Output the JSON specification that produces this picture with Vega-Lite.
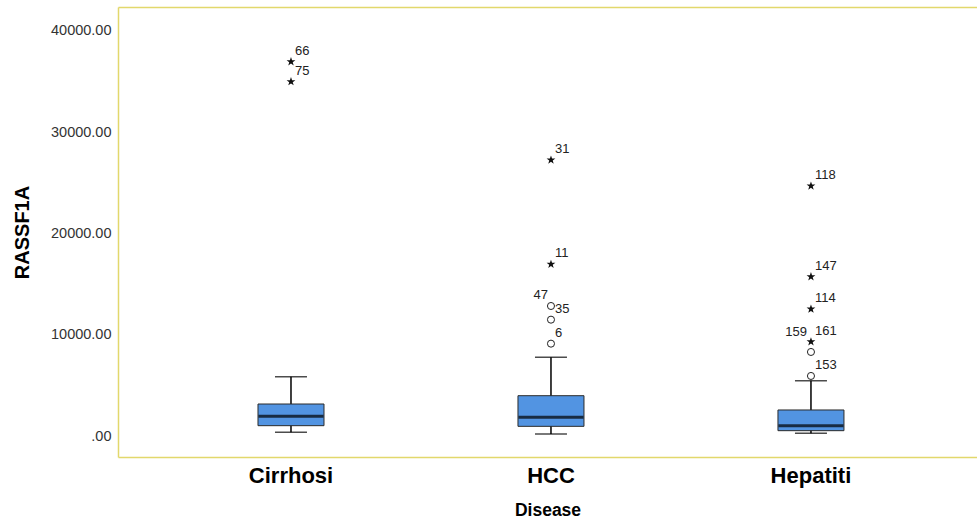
{
  "$schema": "https://vega.github.io/schema/vega-lite/v6.json",
  "autosize": {"type": "none"},
  "padding": {"left": 118, "top": 7, "right": 0, "bottom": 67},
  "width": 859,
  "height": 450,
  "background": "white",
  "config": {
    "view": {"stroke": null},
    "font": "Liberation Sans"
  },
  "datasets": {
    "boxes": [
      {"Disease": "Cirrhosi", "lower": 360, "q1": 1020, "median": 1945, "q3": 3160, "upper": 5850},
      {"Disease": "HCC", "lower": 200, "q1": 955, "median": 1850, "q3": 3980, "upper": 7770},
      {"Disease": "Hepatiti", "lower": 265, "q1": 525, "median": 1020, "q3": 2570, "upper": 5460}
    ],
    "outliers": [
      {"Disease": "Cirrhosi", "case": "66", "RASSF1A": 36970, "kind": "extreme"},
      {"Disease": "Cirrhosi", "case": "75", "RASSF1A": 35000, "kind": "extreme"},
      {"Disease": "HCC", "case": "31", "RASSF1A": 27260, "kind": "extreme"},
      {"Disease": "HCC", "case": "11", "RASSF1A": 16960, "kind": "extreme"},
      {"Disease": "HCC", "case": "47", "RASSF1A": 12840, "kind": "outlier"},
      {"Disease": "HCC", "case": "35", "RASSF1A": 11490, "kind": "outlier"},
      {"Disease": "HCC", "case": "6", "RASSF1A": 9120, "kind": "outlier"},
      {"Disease": "Hepatiti", "case": "118", "RASSF1A": 24690, "kind": "extreme"},
      {"Disease": "Hepatiti", "case": "147", "RASSF1A": 15730, "kind": "extreme"},
      {"Disease": "Hepatiti", "case": "114", "RASSF1A": 12540, "kind": "extreme"},
      {"Disease": "Hepatiti", "case": "161", "RASSF1A": 9310, "kind": "extreme"},
      {"Disease": "Hepatiti", "case": "159", "RASSF1A": 8300, "kind": "outlier"},
      {"Disease": "Hepatiti", "case": "153", "RASSF1A": 5930, "kind": "outlier"}
    ]
  },
  "resolve": {"axis": {"x": "independent", "y": "independent"}},
  "layer": [
    {
      "data": {"name": "boxes"},
      "mark": {"type": "rule", "color": "black", "strokeWidth": 1.5},
      "encoding": {
        "x": {
          "field": "Disease", "type": "nominal", "sort": null,
          "scale": {"type": "band", "paddingInner": 0, "paddingOuter": 0.152, "align": 0.544},
          "axis": {
            "orient": "top", "labels": false, "ticks": false, "title": null,
            "domain": true, "domainColor": "#e2d86c", "domainWidth": 1.5
          }
        },
        "y": {
          "field": "lower", "type": "quantitative",
          "scale": {"domain": [-2074, 42370], "nice": false, "zero": false},
          "axis": {
            "values": [0, 10000, 20000, 30000, 40000],
            "labelExpr": "datum.value == 0 ? '.00' : format(datum.value, '.2f')",
            "ticks": false, "grid": false,
            "domain": true, "domainColor": "#e2d86c", "domainWidth": 1.5,
            "labelPadding": 7, "labelFontSize": 14.5, "labelColor": "#333333",
            "title": "RASSF1A", "titleFontSize": 20, "titleFontWeight": "bold",
            "titleColor": "black", "titlePadding": 18
          }
        },
        "y2": {"field": "upper"}
      }
    },
    {
      "data": {"name": "boxes"},
      "mark": {"type": "tick", "color": "black", "size": 32, "thickness": 1.5},
      "encoding": {
        "x": {"field": "Disease", "type": "nominal", "sort": null, "axis": null},
        "y": {"field": "lower", "type": "quantitative", "axis": null}
      }
    },
    {
      "data": {"name": "boxes"},
      "mark": {"type": "tick", "color": "black", "size": 32, "thickness": 1.5},
      "encoding": {
        "x": {"field": "Disease", "type": "nominal", "sort": null, "axis": null},
        "y": {"field": "upper", "type": "quantitative", "axis": null}
      }
    },
    {
      "data": {"name": "boxes"},
      "mark": {"type": "bar", "width": 66, "fill": "#5294e2", "stroke": "#2b2b2b", "strokeWidth": 1},
      "encoding": {
        "x": {"field": "Disease", "type": "nominal", "sort": null, "axis": null},
        "y": {"field": "q1", "type": "quantitative", "axis": null},
        "y2": {"field": "q3"}
      }
    },
    {
      "data": {"name": "boxes"},
      "mark": {"type": "tick", "color": "black", "size": 65, "thickness": 3},
      "encoding": {
        "x": {
          "field": "Disease", "type": "nominal", "sort": null,
          "axis": {
            "orient": "bottom", "ticks": false,
            "domain": true, "domainColor": "#e2d86c", "domainWidth": 1.5,
            "labelAngle": 0, "labelFontSize": 22, "labelFontWeight": "bold",
            "labelColor": "black", "labelPadding": 8,
            "title": "Disease", "titleFontSize": 17.5, "titleFontWeight": "bold",
            "titleColor": "black", "titlePadding": 15
          }
        },
        "y": {"field": "median", "type": "quantitative", "axis": null}
      }
    },
    {
      "data": {"name": "outliers"},
      "transform": [{"filter": "datum.kind == 'outlier'"}],
      "mark": {"type": "point", "shape": "circle", "size": 50, "filled": false, "fill": "white", "stroke": "#222222", "strokeWidth": 1, "opacity": 1},
      "encoding": {
        "x": {"field": "Disease", "type": "nominal", "sort": null, "axis": null},
        "y": {"field": "RASSF1A", "type": "quantitative", "axis": null}
      }
    },
    {
      "data": {"name": "outliers"},
      "transform": [{"filter": "datum.kind == 'extreme'"}],
      "mark": {
        "type": "point", "filled": true, "color": "#111111", "size": 85, "opacity": 1,
        "shape": "M0,-1 L0.235,-0.324 L0.951,-0.309 L0.380,0.124 L0.588,0.809 L0,0.4 L-0.588,0.809 L-0.380,0.124 L-0.951,-0.309 L-0.235,-0.324 Z"
      },
      "encoding": {
        "x": {"field": "Disease", "type": "nominal", "sort": null, "axis": null},
        "y": {"field": "RASSF1A", "type": "quantitative", "axis": null}
      }
    },
    {
      "data": {"name": "outliers"},
      "transform": [{"filter": "datum.case != '47' && datum.case != '159'"}],
      "mark": {"type": "text", "align": "left", "baseline": "middle", "dx": 4, "dy": -11, "fontSize": 13, "color": "#222222"},
      "encoding": {
        "x": {"field": "Disease", "type": "nominal", "sort": null, "axis": null},
        "y": {"field": "RASSF1A", "type": "quantitative", "axis": null},
        "text": {"field": "case"}
      }
    },
    {
      "data": {"name": "outliers"},
      "transform": [{"filter": "datum.case == '47'"}],
      "mark": {"type": "text", "align": "right", "baseline": "middle", "dx": -3, "dy": -11, "fontSize": 13, "color": "#222222"},
      "encoding": {
        "x": {"field": "Disease", "type": "nominal", "sort": null, "axis": null},
        "y": {"field": "RASSF1A", "type": "quantitative", "axis": null},
        "text": {"field": "case"}
      }
    },
    {
      "data": {"name": "outliers"},
      "transform": [{"filter": "datum.case == '159'"}],
      "mark": {"type": "text", "align": "right", "baseline": "middle", "dx": -4, "dy": -20, "fontSize": 13, "color": "#222222"},
      "encoding": {
        "x": {"field": "Disease", "type": "nominal", "sort": null, "axis": null},
        "y": {"field": "RASSF1A", "type": "quantitative", "axis": null},
        "text": {"field": "case"}
      }
    }
  ]
}
